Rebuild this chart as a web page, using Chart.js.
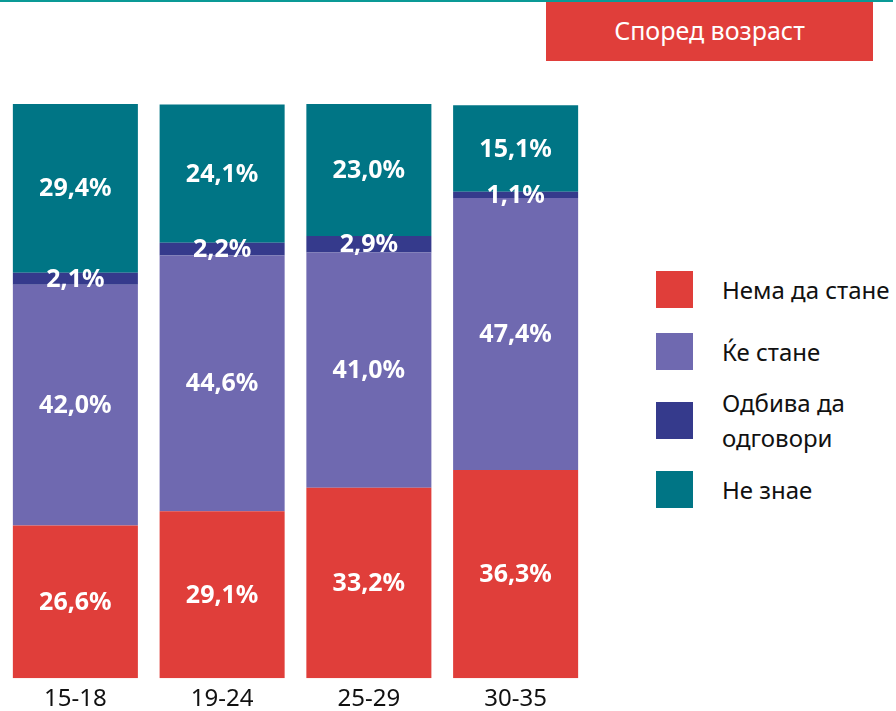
<!DOCTYPE html>
<html>
<head>
<meta charset="utf-8">
<script src="https://cdn.jsdelivr.net/npm/chart.js@4.4.1/dist/chart.umd.min.js"></script>
<style>
  body { margin: 0; background: #fff; font-family: "Noto Sans", sans-serif; }
  #page { position: relative; width: 896px; height: 711px; overflow: hidden; }
  #topline { position: absolute; left: 0; top: 0; width: 893px; height: 2px; background: #0a9a96; }
  #badge {
    position: absolute; left: 546px; top: 2px; width: 327px; height: 59px;
    background: #e03e3a; color: #fff; font-size: 25px; line-height: 57px; text-align: center;
  }
  #chartBox { position: absolute; left: 2px; top: 98px; width: 587px; height: 623px; }
  #legend { position: absolute; left: 656px; top: 0; }
  .item { position: absolute; left: 0; display: flex; align-items: center; white-space: nowrap; }
  .sw { width: 37px; height: 37px; flex: none; }
  .lbl { margin-left: 29px; font-size: 24px; line-height: 35px; color: #111; }
</style>
</head>
<body>
<div id="page">
  <div id="topline"></div>
  <div id="badge">Според возраст</div>
  <div id="chartBox"><canvas id="chart"></canvas></div>
  <div id="legend"></div>
</div>
<script>
const categories = ['15-18', '19-24', '25-29', '30-35']
const seriesNames = ['Нема да стане', 'Ќе стане', 'Одбива да\nодговори', 'Не знае']
const seriesColors = ['#e03e3a', '#6f69b0', '#353a8c', '#007585']
const nemaDaStane = [26.6, 29.1, 33.2, 36.3]
const keStane = [42.0, 44.6, 41.0, 47.4]
const odbiva = [2.1, 2.2, 2.9, 1.1]
const neZnae = [29.4, 24.1, 23.0, 15.1]
const seriesValues = [nemaDaStane, keStane, odbiva, neZnae]

// centre of each legend row (px from page top)
const legendRows = [289, 351, 420, 489]

const legendEl = document.getElementById('legend')
seriesNames.forEach((name, i) => {
  const row = document.createElement('div')
  row.className = 'item'
  const sw = document.createElement('div')
  sw.className = 'sw'
  sw.style.background = seriesColors[i]
  const lbl = document.createElement('div')
  lbl.className = 'lbl'
  lbl.innerHTML = name.replace('\n', '<br>')
  row.appendChild(sw)
  row.appendChild(lbl)
  const half = name.indexOf('\n') >= 0 ? 35 : 18.5
  row.style.top = (legendRows[i] - half) + 'px'
  legendEl.appendChild(row)
})

// draw the percent text in the middle of each segment
const segmentLabels = {
  id: 'segmentLabels',
  afterDatasetsDraw(chart) {
    const ctx = chart.ctx
    ctx.save()
    ctx.fillStyle = '#fff'
    ctx.font = 'bold 25px "Noto Sans"'
    ctx.textAlign = 'center'
    ctx.textBaseline = 'middle'
    chart.data.datasets.forEach((ds, i) => {
      chart.getDatasetMeta(i).data.forEach((bar, j) => {
        const txt = ds.data[j].toFixed(1).replace('.', ',') + '%'
        ctx.fillText(txt, bar.x, (bar.y + bar.base) / 2 + 1)
      })
    })
    ctx.restore()
  }
}

new Chart(document.getElementById('chart'), {
  type: 'bar',
  data: {
    labels: categories,
    datasets: seriesValues.map((vals, i) => ({
      label: seriesNames[i],
      data: vals,
      backgroundColor: seriesColors[i],
      borderWidth: 0,
      barPercentage: 1,
      categoryPercentage: 0.852
    }))
  },
  options: {
    responsive: true,
    maintainAspectRatio: false,
    animation: false,
    layout: { padding: { top: 6, left: 0, right: 0, bottom: 0 } },
    plugins: { legend: { display: false }, tooltip: { enabled: false } },
    scales: {
      x: {
        stacked: true,
        grid: { display: false, drawTicks: false },
        border: { display: false },
        ticks: { color: '#111', font: { family: 'Noto Sans', size: 24 }, padding: 7 }
      },
      y: { stacked: true, display: false, min: 0, max: 100.1 }
    }
  },
  plugins: [segmentLabels]
})
</script>
</body>
</html>
